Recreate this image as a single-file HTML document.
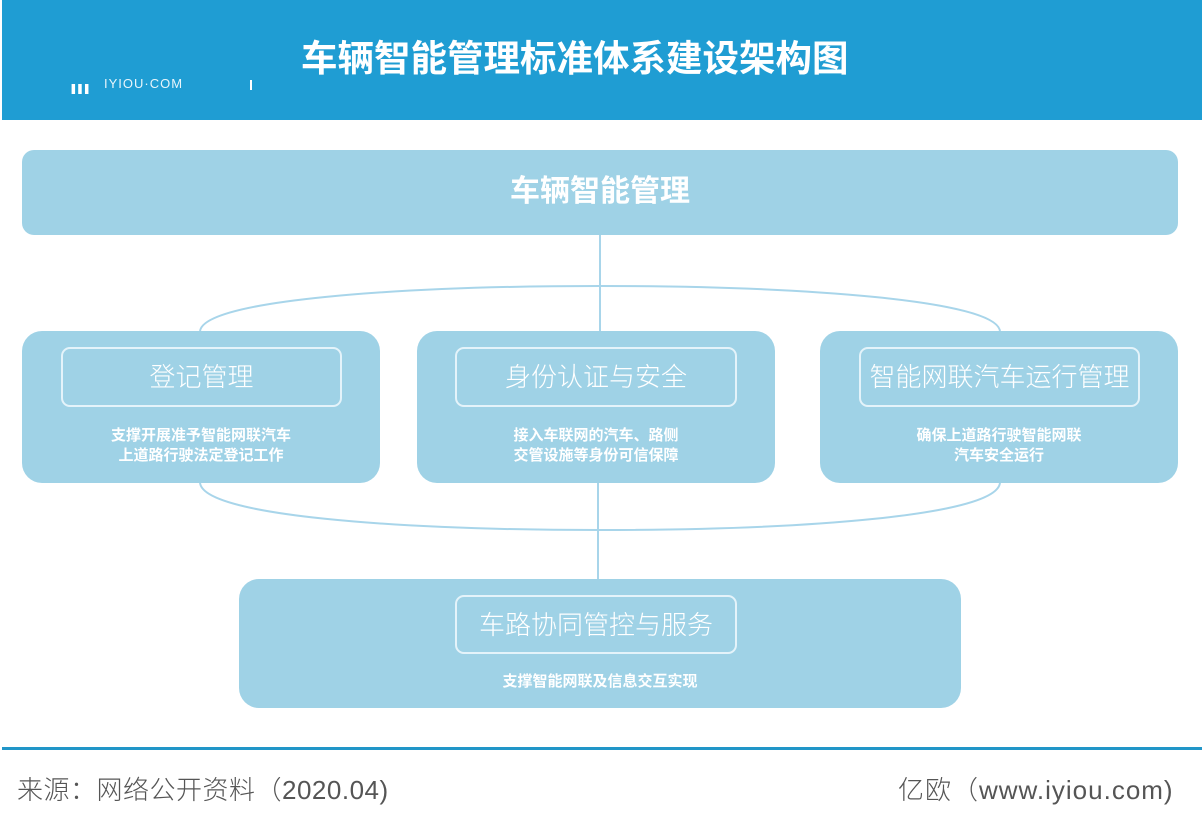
<!DOCTYPE html>
<html><head><meta charset="utf-8"><style>
body{margin:0;width:1204px;height:827px;background:#fff;position:relative;overflow:hidden;font-family:"Liberation Sans","Noto Sans CJK SC",sans-serif}
.a{position:absolute}
.box{position:absolute;background:#9fd2e6;border-radius:20px}
.in{position:absolute;border:2px solid #e4f3fa;border-radius:9px;color:#fff;font-size:26px;text-align:center;box-sizing:border-box;line-height:56px;font-weight:300}
.d{position:absolute;color:#fff;font-size:15px;font-weight:bold;text-align:center;line-height:20px}
</style></head><body>
<div class="a" style="left:2px;top:0;width:1200px;height:120px;background:#1f9dd3"></div>
<div class="a" style="left:70px;top:81px;color:#fff;font-size:15px;font-weight:bold;transform:scaleX(1.6);transform-origin:left">III</div>
<div class="a" style="left:104px;top:76px;color:#e8f5fb;font-size:13px;letter-spacing:1px">IYIOU·COM</div>
<div class="a" style="left:250px;top:80px;width:2px;height:10px;background:#fff"></div>
<div class="a" style="left:301px;top:34px;width:600px;color:#fff;font-size:36.5px;font-weight:bold;line-height:50px">车辆智能管理标准体系建设架构图</div>
<div class="box" style="left:22px;top:150px;width:1156px;height:85px;border-radius:12px"></div>
<div class="a" style="left:22px;top:170px;width:1156px;text-align:center;color:#fff;font-size:30px;font-weight:bold;line-height:44px">车辆智能管理</div>
<svg class="a" style="left:0;top:0" width="1204" height="827">
<line x1="600" y1="235" x2="600" y2="332" stroke="#a8d5ea" stroke-width="2"/>
<path d="M200,332 C200,300 400,286 600,286 C800,286 1000,300 1000,332" fill="none" stroke="#a8d5ea" stroke-width="2"/>
<path d="M200,482 C200,516 400,530 600,530 C800,530 1000,516 1000,482" fill="none" stroke="#a8d5ea" stroke-width="2"/>
<line x1="598" y1="483" x2="598" y2="580" stroke="#a8d5ea" stroke-width="2"/>
</svg>
<div class="box" style="left:22px;top:331px;width:358px;height:152px"></div>
<div class="box" style="left:417px;top:331px;width:358px;height:152px"></div>
<div class="box" style="left:820px;top:331px;width:358px;height:152px"></div>
<div class="in" style="left:61px;top:347px;width:281px;height:60px">登记管理</div>
<div class="in" style="left:455px;top:347px;width:282px;height:60px">身份认证与安全</div>
<div class="in" style="left:859px;top:347px;width:281px;height:60px">智能网联汽车运行管理</div>
<div class="d" style="left:22px;top:426px;width:358px">支撑开展准予智能网联汽车<br>上道路行驶法定登记工作</div>
<div class="d" style="left:417px;top:426px;width:358px">接入车联网的汽车、路侧<br>交管设施等身份可信保障</div>
<div class="d" style="left:820px;top:426px;width:358px">确保上道路行驶智能网联<br>汽车安全运行</div>
<div class="box" style="left:239px;top:579px;width:722px;height:129px"></div>
<div class="in" style="left:455px;top:595px;width:282px;height:59px">车路协同管控与服务</div>
<div class="d" style="left:239px;top:672px;width:722px">支撑智能网联及信息交互实现</div>
<div class="a" style="left:2px;top:747px;width:1200px;height:3px;background:#2196c8"></div>
<div class="a" style="left:17px;top:770px;color:#555;font-size:26px;font-weight:300;letter-spacing:0.5px">来源：网络公开资料（2020.04)</div>
<div class="a" style="left:898px;top:770px;color:#555;font-size:26px;font-weight:300;letter-spacing:1px">亿欧（www.iyiou.com)</div>
</body></html>
